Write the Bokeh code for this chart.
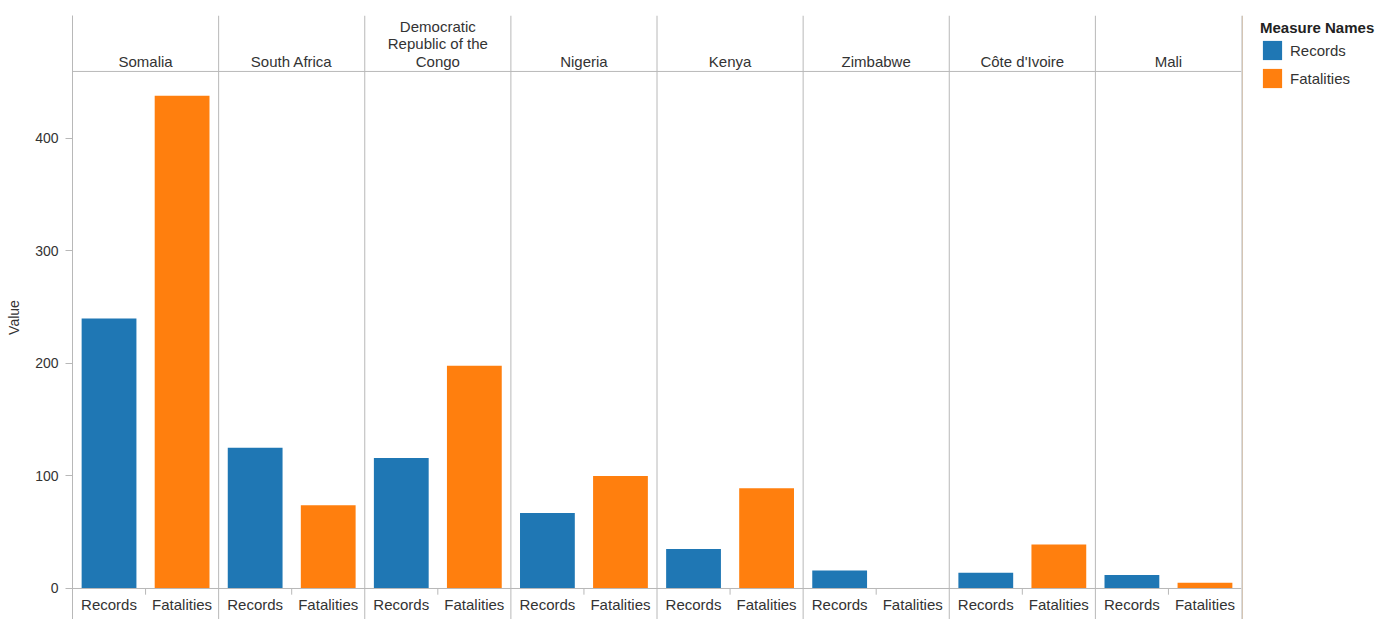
from bokeh.plotting import figure
from bokeh.layouts import row
from bokeh.models import (ColumnDataSource, FactorRange, Range1d, FixedTicker, Span,
                          Legend, LegendItem)
from bokeh.core.properties import value
from bokeh.embed import file_html
from bokeh.resources import INLINE

# ---- data ----
countries = ["Somalia", "South Africa", "Democratic Republic of the Congo", "Nigeria",
             "Kenya", "Zimbabwe", "Côte d'Ivoire", "Mali"]
header_labels = ["Somalia", "South Africa", "Democratic\nRepublic of the\nCongo", "Nigeria",
                 "Kenya", "Zimbabwe", "Côte d'Ivoire", "Mali"]
measures = ["Records", "Fatalities"]
records = [240, 125, 116, 67, 35, 16, 14, 12]
fatalities = [438, 74, 198, 100, 89, 0, 39, 5]
y_ticks = [0, 100, 200, 300, 400]

# ---- styling constants ----
FONT = "Liberation Sans"
TEXT = "#333333"
LINE = "#b8b8b8"
BLUE = "#1f77b4"
ORANGE = "#ff7f0e"
colors = [BLUE, ORANGE]

factors = [(c, m) for c in countries for m in measures]
x_range = FactorRange(*factors, factor_padding=0, group_padding=0, range_padding=0)

p = figure(width=1242, height=619, x_range=x_range, y_range=Range1d(-27.56, 509.33),
           x_axis_location=None, output_backend="svg", toolbar_location=None,
           min_border_left=72, min_border_right=1, min_border_top=15, min_border_bottom=0)
p.outline_line_color = None
p.xgrid.visible = False
p.ygrid.visible = False
p.background_fill_color = "white"

src_rec = ColumnDataSource(dict(x=[(c, "Records") for c in countries], top=records))
src_fat = ColumnDataSource(dict(x=[(c, "Fatalities") for c in countries], top=fatalities))
p.vbar(x="x", top="top", bottom=0, width=0.75, source=src_rec,
       fill_color=BLUE, line_color=None)
p.vbar(x="x", top="top", bottom=0, width=0.75, source=src_fat,
       fill_color=ORANGE, line_color=None)

# y axis
ax = p.yaxis[0]
ax.ticker = FixedTicker(ticks=y_ticks)
ax.axis_label = "Value"
ax.axis_label_text_font = FONT
ax.axis_label_text_font_size = "14px"
ax.axis_label_text_font_style = "normal"
ax.axis_label_text_color = TEXT
ax.axis_label_standoff = 10
ax.major_label_text_font = FONT
ax.major_label_text_font_size = "14px"
ax.major_label_text_color = TEXT
ax.major_label_standoff = 7
ax.major_tick_in = 0
ax.major_tick_out = 7
ax.minor_tick_line_color = None
ax.axis_line_color = LINE
ax.major_tick_line_color = LINE

# structure lines
p.add_layout(Span(location=0, dimension="width", line_color=LINE, line_width=1))
p.add_layout(Span(location=459.6, dimension="width", line_color=LINE, line_width=1))
for i in range(len(countries)):
    p.add_layout(Span(location=2 * (i + 1), dimension="height", line_color=LINE, line_width=1))

# small ticks between the two measures
tick_src = ColumnDataSource(dict(x=[(c, "Records", 0.5) for c in countries]))
p.segment(x0="x", x1="x", y0=0, y1=-5.5, source=tick_src, line_color=LINE, line_width=1)

# column headers
hdr_src = ColumnDataSource(dict(x=countries, text=header_labels))
p.text(x="x", y=461.3, text="text", source=hdr_src, text_align="center",
       text_baseline="bottom", text_font=value(FONT), text_font_size="15px",
       text_color=TEXT, text_line_height=1.02)

# measure labels under the baseline
lab_src = ColumnDataSource(dict(x=factors, text=[m for c in countries for m in measures]))
p.text(x="x", y=-14.3, text="text", source=lab_src, text_align="center",
       text_baseline="alphabetic", text_font=value(FONT), text_font_size="15px",
       text_color=TEXT)

# ---- legend panel ----
lg = figure(width=134, height=619, x_range=Range1d(0, 1), y_range=Range1d(0, 1),
            x_axis_location=None, y_axis_location=None, output_backend="svg",
            toolbar_location=None, min_border=0)
lg.outline_line_color = None
lg.xgrid.visible = False
lg.ygrid.visible = False
items = []
for m, col in zip(measures, colors):
    # swatch-only renderer, placed outside the visible range
    r = lg.vbar(x=[-5], top=[1], bottom=0, width=0.75, fill_color=col, line_color=None)
    items.append(LegendItem(label=m, renderers=[r]))

legend = Legend(items=items, location=(18, 529), title="Measure Names",
                title_text_font=FONT, title_text_font_size="15px",
                title_text_font_style="bold", title_text_color="#222222",
                title_standoff=2,
                label_text_font=FONT, label_text_font_size="15px", label_text_color=TEXT,
                glyph_width=24, glyph_height=24, label_height=24, spacing=4,
                label_standoff=6, padding=0, margin=0,
                border_line_alpha=0, background_fill_alpha=0)
lg.add_layout(legend)

layout = row(p, lg, spacing=0)
open("out.html", "w").write(file_html(layout, INLINE))
